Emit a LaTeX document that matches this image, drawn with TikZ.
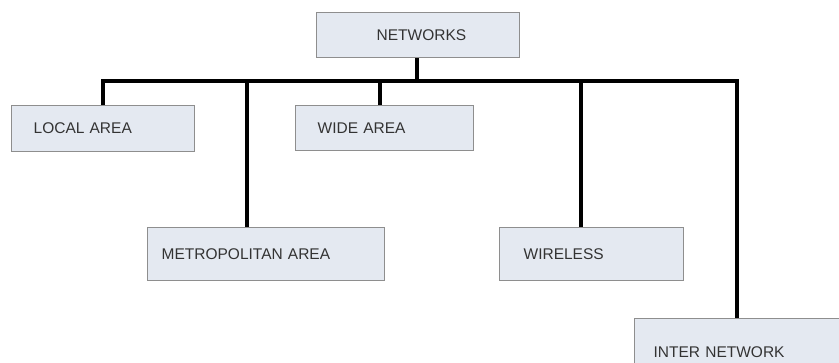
\documentclass[tikz,border=0pt]{standalone}
\usepackage{fontspec}
\setmainfont{Liberation Sans}
\definecolor{boxfill}{HTML}{E4E9F1}
\definecolor{boxline}{HTML}{8E8E8E}
\definecolor{txt}{HTML}{333333}
\begin{document}
\begin{tikzpicture}[x=1pt,y=-1pt,
  box/.style={draw=boxline, line width=1.3pt, fill=boxfill, anchor=north west,
    inner ysep=0pt, align=left, text=txt,
    font=\fontsize{15.5}{18}\selectfont},
  bus/.style={line width=4.5pt, black, line join=miter}]
\useasboundingbox (0,0) rectangle (839,362);
\clip (0,0) rectangle (839,362);
\fill[white] (0,0) rectangle (839,362);
% boxes: width W, height H, left text offset o -> inner xsep=o, text width=W-2o
\node[box, minimum width=203, minimum height=45, inner xsep=60pt, text width=83pt] (net) at (316,12) {NETWORKS};
\node[box, minimum width=183, minimum height=46, inner xsep=22pt, text width=139pt] (local) at (11,105) {LOCAL AREA};
\node[box, minimum width=178, minimum height=45, inner xsep=22pt, text width=134pt] (wide) at (295,105) {WIDE AREA};
\node[box, minimum width=237, minimum height=53, inner xsep=14pt, text width=209pt] (metro) at (147,227) {METROPOLITAN AREA};
\node[box, minimum width=184, minimum height=53, inner xsep=24pt, text width=136pt] (wire) at (499,227) {WIRELESS};
\node[box, minimum width=206, minimum height=68, inner xsep=19pt, text width=168pt] (inter) at (634,318) {INTER NETWORK};
% bus coordinates
\coordinate (d1) at (103,81);
\coordinate (d2) at (247,81);
\coordinate (d0) at (417,81);
\coordinate (d3) at (380,81);
\coordinate (d4) at (581,81);
\coordinate (d5) at (737,81);
% connectors
\draw[bus] (local.north -| d1) -- (d1) -- (d5) -- (inter.north -| d5);
\draw[bus] (net.south -| d0) -- (d0);
\draw[bus] (d2) -- (metro.north -| d2);
\draw[bus] (d3) -- (wide.north -| d3);
\draw[bus] (d4) -- (wire.north -| d4);
\end{tikzpicture}
\end{document}
